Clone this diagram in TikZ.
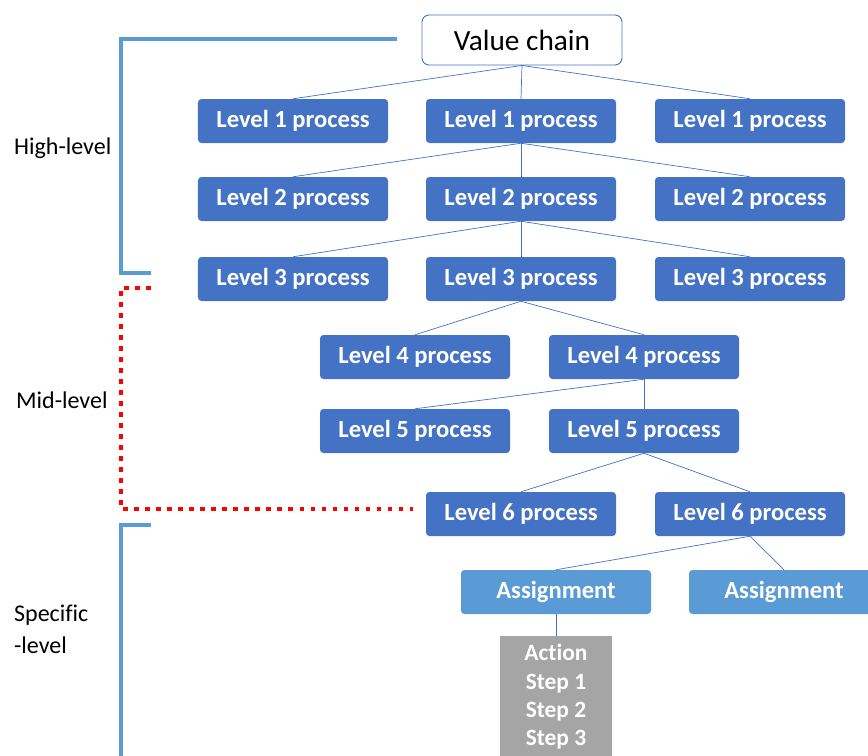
\documentclass[tikz,border=0pt]{standalone}
\usepackage{fontspec}
\setmainfont{Carlito}[Ligatures=NoCommon]
\usetikzlibrary{shapes}
\definecolor{procblue}{HTML}{4472C4}
\definecolor{assignblue}{HTML}{5B9BD5}
\definecolor{actiongray}{HTML}{A5A5A5}
\tikzstyle{link} = [draw=procblue,line width=0.6pt]
\tikzstyle{bracket} = [draw=assignblue,line width=3.2pt]

\begin{document}
\begin{tikzpicture}
		[
		x=0.03cm, y=-0.03cm,
		process/.style={
		rectangle,
		rounded corners=3pt,
		fill=procblue, text=white,
		minimum width=5.7cm, minimum height=1.32cm,
		font=\fontsize{21}{25}\selectfont\bfseries},
		assign/.style={
		process,
		fill=assignblue},
		tier/.style={
		anchor=west, align=left,
		font=\fontsize{20.5}{27}\selectfont}
		]
		\useasboundingbox (0,0) rectangle (868,756);

		% top of the chain
		\node[rectangle,draw=procblue,line width=0.8pt,rounded corners=6pt,fill=white,
			minimum width=6cm,minimum height=1.5cm,font=\fontsize{25}{30}\selectfont](value_chain) at (522,40) {Value chain};

		\node[process](lvl1_left) at (293,121) {Level 1 process};
		\node[process](lvl1_mid) at (521,121) {Level 1 process};
		\node[process](lvl1_right) at (750,121) {Level 1 process};
		\node[process](lvl2_left) at (293,199) {Level 2 process};
		\node[process](lvl2_mid) at (521,199) {Level 2 process};
		\node[process](lvl2_right) at (750,199) {Level 2 process};
		\node[process](lvl3_left) at (293,279) {Level 3 process};
		\node[process](lvl3_mid) at (521,279) {Level 3 process};
		\node[process](lvl3_right) at (750,279) {Level 3 process};
		\node[process](lvl4_left) at (415,357) {Level 4 process};
		\node[process](lvl4_right) at (644,357) {Level 4 process};
		\node[process](lvl5_left) at (415,431) {Level 5 process};
		\node[process](lvl5_right) at (644,431) {Level 5 process};
		\node[process](lvl6_left) at (521,514) {Level 6 process};
		\node[process](lvl6_right) at (750,514) {Level 6 process};
		\node[assign](assign_left) at (556,592) {Assignment};
		\node[assign](assign_right) at (784,592) {Assignment};
		\node[rectangle,fill=actiongray,text=white,anchor=north,minimum width=3.36cm,inner ysep=7pt,
			align=center,font=\fontsize{20}{24}\selectfont\bfseries](action) at (556,636) {Action\\Step 1\\Step 2\\Step 3};

		% tree links
		\foreach \child in {lvl1_left,lvl1_mid,lvl1_right}
			\draw[link] (value_chain.south) -- (\child.north);
		\foreach \child in {lvl2_left,lvl2_mid,lvl2_right}
			\draw[link] (lvl1_mid.south) -- (\child.north);
		\foreach \child in {lvl3_left,lvl3_mid,lvl3_right}
			\draw[link] (lvl2_mid.south) -- (\child.north);
		\foreach \child in {lvl4_left,lvl4_right}
			\draw[link] (lvl3_mid.south) -- (\child.north);
		\foreach \child in {lvl5_left,lvl5_right}
			\draw[link] (lvl4_right.south) -- (\child.north);
		\foreach \child in {lvl6_left,lvl6_right}
			\draw[link] (lvl5_right.south) -- (\child.north);
		\foreach \child in {assign_left,assign_right}
			\draw[link] (lvl6_right.south) -- (\child.north);
		\draw[link] (assign_left.south) -- (action.north);

		% level brackets
		\draw[bracket] (397,39) -- (121,39) -- (121,273) -- (151,273);
		\draw[red,line width=3.4pt,dash pattern=on 4pt off 5.4pt] (151,288) -- (121,288) -- (121,509) -- (413,509);
		\draw[bracket] (151,525) -- (121,525) -- (121,760);

		\node[tier](high_label) at (10,148) {High-level};
		\node[tier](mid_label) at (12,400) {Mid-level};
		\node[tier](specific_label) at (10,629) {Specific\\-level};
		\end{tikzpicture}
\end{document}
